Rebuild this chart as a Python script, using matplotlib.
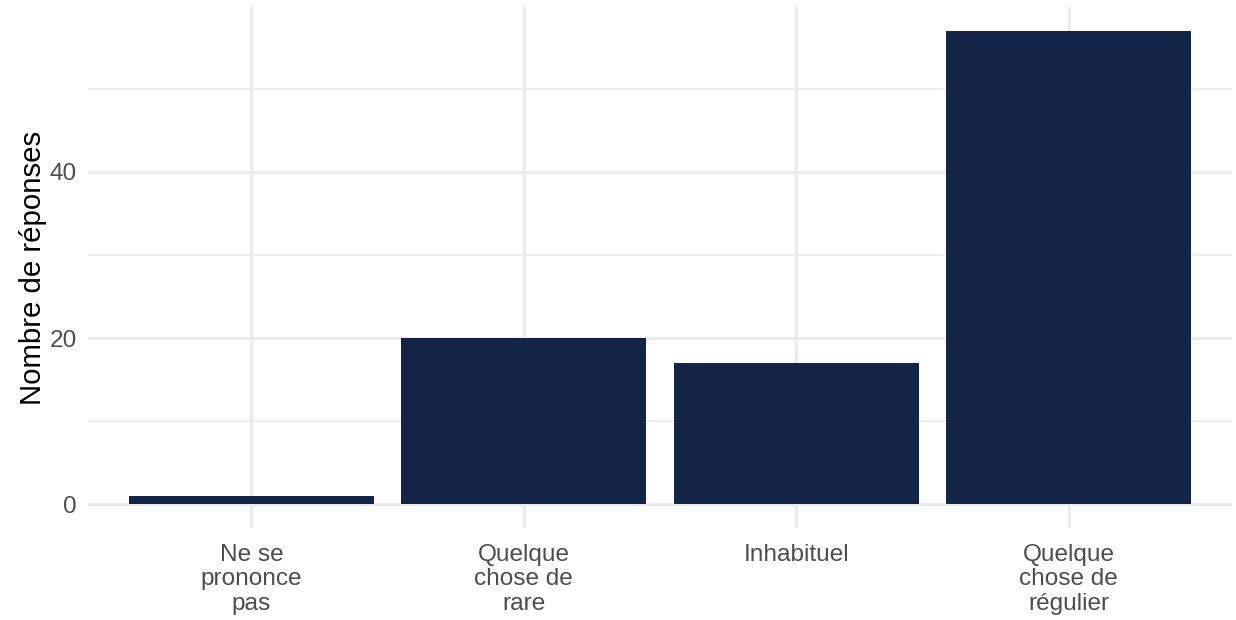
import matplotlib.pyplot as plt

plt.rcParams['font.family'] = ['Liberation Sans', 'DejaVu Sans']

# données
categories = ['Ne se\nprononce\npas', 'Quelque\nchose de\nrare', 'Inhabituel', 'Quelque\nchose de\nrégulier']
reponses = [1, 20, 17, 57]

fig = plt.figure(figsize=(6.18, 3.1), dpi=200)
ax = fig.add_axes([88 / 1236, 1 - 528 / 620, (1232 - 88) / 1236, (528 - 7) / 620])

x = range(len(categories))
ax.bar(x, reponses, width=0.9, color='#132446', zorder=3)

ymax = max(reponses)
ax.set_ylim(-0.05 * ymax, 1.05 * ymax)
ax.set_xlim(-0.6, len(categories) - 0.4)

ax.set_yticks([0, 20, 40])
ax.set_yticks([10, 30, 50], minor=True)
ax.set_xticks(list(x))
ax.set_xticklabels(categories, linespacing=1.13)

# grille style theme_minimal
ax.grid(True, which='major', color='#EBEBEB', linewidth=1.1, zorder=0)
ax.grid(True, which='minor', axis='y', color='#EBEBEB', linewidth=0.55, zorder=0)
for s in ax.spines.values():
    s.set_visible(False)
ax.tick_params(which='both', length=0)
ax.tick_params(axis='both', labelsize=8.8, labelcolor='#4D4D4D')
ax.tick_params(axis='x', pad=5.8)
ax.tick_params(axis='y', pad=4)

ax.set_ylabel('Nombre de réponses', fontsize=10.6, color='black', labelpad=1)

fig.savefig('out.png', dpi=200)
